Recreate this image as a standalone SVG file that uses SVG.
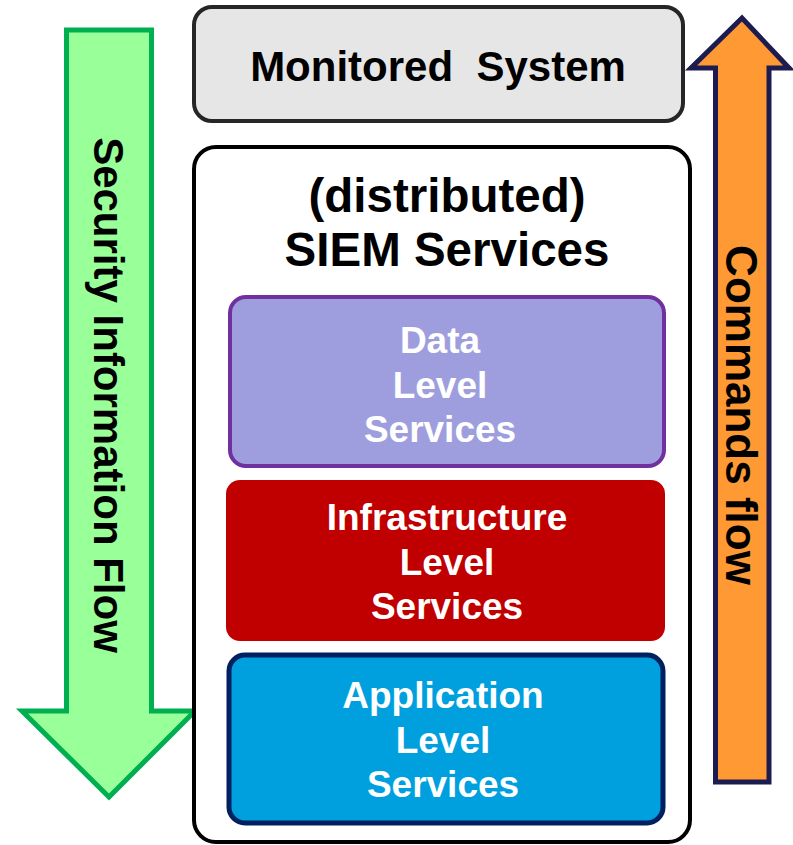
<svg xmlns="http://www.w3.org/2000/svg" width="793" height="845" viewBox="0 0 793 845">
<style>
text{font-family:"Liberation Sans",Arial,sans-serif;font-weight:bold;text-anchor:middle}
.blk{fill:#000}
.wht{fill:#fff}
.t42{font-size:42px}
.t44{font-size:44px}
.t47{font-size:47.5px}
.t37{font-size:37px}
</style>
<rect width="793" height="845" fill="#fff"/>
<g id="connectors">
<g id="security-flow">
<path d="M66.5,30 L151.5,30 L151.5,711 L195,711 L109,797 L22,711 L66.5,711 Z" fill="#99FF99" stroke="#00B050" stroke-width="5" stroke-linejoin="miter"/>
<text class="blk t42" transform="translate(94,395) rotate(90)">Security Information Flow</text>
</g>
<g id="commands-flow">
<path d="M715.5,782 L769,782 L769,68 L789,68 L742,18 L691,68 L715.5,68 Z" fill="#FF9933" stroke="#1C1C50" stroke-width="5" stroke-linejoin="miter"/>
<text class="blk t44" transform="translate(726,415) rotate(90)">Commands flow</text>
</g>
</g>
<g id="monitored-system">
<rect x="194" y="7" width="489" height="114" rx="18" fill="#E6E6E6" stroke="#262626" stroke-width="4"/>
<text class="blk t42" x="438" y="81" xml:space="preserve">Monitored  System</text>
</g>
<g id="siem-services">
<rect x="194" y="147" width="496" height="695" rx="22" fill="#fff" stroke="#000" stroke-width="4"/>
<text class="blk t47" x="447" y="212">(distributed)</text>
<text class="blk t47" x="447" y="266">SIEM Services</text>
</g>
<g id="data-level">
<rect x="230" y="297" width="434" height="169" rx="16" fill="#9E9EDE" stroke="#7030A0" stroke-width="4"/>
<text class="wht t37" x="440" y="353">Data</text>
<text class="wht t37" x="440" y="398">Level</text>
<text class="wht t37" x="440" y="442">Services</text>
</g>
<g id="infrastructure-level">
<rect x="226" y="480" width="439" height="161" rx="14" fill="#C00000"/>
<text class="wht t37" x="447" y="530">Infrastructure</text>
<text class="wht t37" x="447" y="575">Level</text>
<text class="wht t37" x="447" y="619">Services</text>
</g>
<g id="application-level">
<rect x="229" y="655" width="434" height="168" rx="16" fill="#00A0DE" stroke="#002060" stroke-width="5"/>
<text class="wht t37" x="443" y="708">Application</text>
<text class="wht t37" x="443" y="753">Level</text>
<text class="wht t37" x="443" y="797">Services</text>
</g>
</svg>
